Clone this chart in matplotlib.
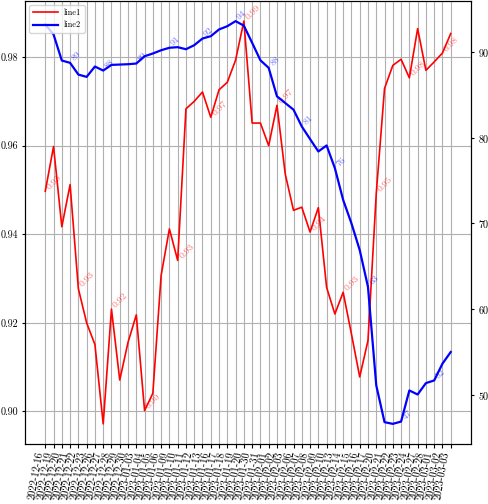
import matplotlib
matplotlib.use('Agg')
import matplotlib.pyplot as plt

# --- datos ---
dates = [
    '2022-12-16', '2022-12-19', '2022-12-20', '2022-12-21', '2022-12-22',
    '2022-12-23', '2022-12-26', '2022-12-27', '2022-12-28', '2022-12-29',
    '2022-12-30', '2023-01-03', '2023-01-04', '2023-01-05', '2023-01-06',
    '2023-01-09', '2023-01-10', '2023-01-11', '2023-01-12', '2023-01-13',
    '2023-01-16', '2023-01-17', '2023-01-18', '2023-01-19', '2023-01-20',
    '2023-01-30', '2023-01-31', '2023-02-01', '2023-02-02', '2023-02-03',
    '2023-02-06', '2023-02-07', '2023-02-08', '2023-02-09', '2023-02-10',
    '2023-02-13', '2023-02-14', '2023-02-15', '2023-02-16', '2023-02-17',
    '2023-02-20', '2023-02-21', '2023-02-22', '2023-02-23', '2023-02-24',
    '2023-02-27', '2023-02-28', '2023-03-01', '2023-03-02', '2023-03-03',
]

line1 = [
    0.9497, 0.9598, 0.9417, 0.9512, 0.9277, 0.9200, 0.9151, 0.8972, 0.9231, 0.9071,
    0.9156, 0.9218, 0.9002, 0.9041, 0.9307, 0.9412, 0.9341, 0.9683, 0.9700, 0.9721,
    0.9664, 0.9726, 0.9743, 0.9793, 0.9881, 0.9651, 0.9651, 0.9600, 0.9691, 0.9536,
    0.9454, 0.9461, 0.9405, 0.9460, 0.9280, 0.9220, 0.9269, 0.9175, 0.9078, 0.9160,
    0.9492, 0.9729, 0.9781, 0.9795, 0.9753, 0.9864, 0.9770, 0.9789, 0.9809, 0.9853,
]

line2 = [
    93.24, 92.07, 89.03, 88.76, 87.39, 87.12, 88.33, 87.86, 88.52, 88.56,
    88.60, 88.68, 89.53, 89.85, 90.23, 90.52, 90.59, 90.35, 90.82, 91.60,
    91.87, 92.66, 93.04, 93.63, 93.10, 91.10, 89.06, 88.17, 84.85, 84.07,
    83.29, 81.33, 79.86, 78.41, 79.11, 76.46, 72.75, 70.02, 66.90, 62.60,
    51.10, 46.80, 46.60, 46.87, 50.50, 50.03, 51.36, 51.67, 53.63, 54.99,
]

# --- estilo ---
plt.rcParams['font.family'] = ['cmr10', 'DejaVu Serif']
plt.rcParams['axes.formatter.use_mathtext'] = True

fig = plt.figure(figsize=(4.88, 5.04), dpi=100)
ax1 = fig.add_axes([25 / 488, 60 / 504, 446 / 488, 443 / 504])
ax2 = ax1.twinx()

x = list(range(len(dates)))

l1, = ax1.plot(x, line1, color='red', linewidth=1.2, label='line1')
l2, = ax2.plot(x, line2, color='blue', linewidth=1.6, label='line2')

# etiquetas de valores cada 4 puntos
for i in range(0, len(x), 4):
    ax1.text(x[i], line1[i], f'{line1[i]:.2f}', color='red', alpha=0.55,
             fontsize=7, rotation=45, ha='left', va='bottom')
for i in range(3, len(x), 4):
    ax2.text(x[i], line2[i], f'{line2[i]:.0f}', color='blue', alpha=0.55,
             fontsize=7, rotation=45, ha='left', va='bottom')

ax1.set_xticks(x)
ax1.set_xticklabels(dates, rotation=80, ha='right', fontsize=7.5)
ax1.set_yticks([0.90, 0.92, 0.94, 0.96, 0.98])
ax1.set_yticklabels(['0.90', '0.92', '0.94', '0.96', '0.98'])
ax2.set_yticks([50, 60, 70, 80, 90])

ax1.tick_params(axis='y', labelsize=7.2, length=2.5, pad=2.5)
ax2.tick_params(axis='y', labelsize=7.2, length=2.5, pad=2.5)
ax1.tick_params(axis='x', length=3, pad=2)

ax1.grid(True, color='#b0b0b0', linewidth=0.8)

ax2.legend(handles=[l1, l2], loc='upper left', fontsize=6, handlelength=3)

fig.savefig('out.png', dpi=100)
